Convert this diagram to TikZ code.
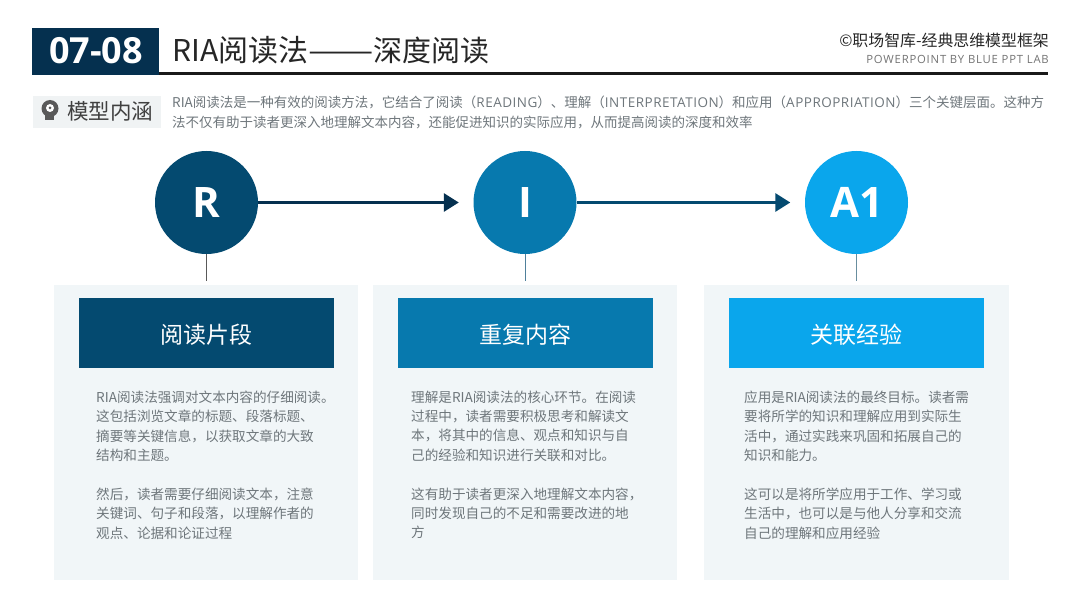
\documentclass[tikz,border=0pt]{standalone}
\usepackage{fontspec}
\setmainfont{Noto Sans CJK SC}
\newfontfamily\latinfont{Open Sans}
\newfontfamily\widefont[LetterSpace=3.7]{Open Sans}
\usetikzlibrary{arrows.meta}
\definecolor{navy}{HTML}{05304F}
\definecolor{darkblue}{HTML}{044A70}
\definecolor{midblue}{HTML}{0779AE}
\definecolor{lightblue}{HTML}{0AA6EC}
\definecolor{panelbg}{HTML}{F1F6F8}
\definecolor{tagbg}{HTML}{F0F3F4}
\definecolor{bodygrey}{HTML}{6E767B}
\tikzset{
  letter/.style={circle, minimum size=103pt, inner sep=0pt, text=white, font=\latinfont\bfseries\fontsize{42}{48}\selectfont},
  panel/.style={fill=panelbg, minimum width=304.5pt, minimum height=295pt, inner sep=0pt},
  headbox/.style={minimum width=255pt, minimum height=70pt, inner sep=0pt, text=white, text height=24pt, text depth=2.8pt, font=\fontsize{23}{26}\selectfont},
  bodytext/.style={anchor=north west, inner sep=0pt, align=left, text=bodygrey, font=\fontsize{13.6}{19.4}\selectfont},
  flow/.style={line width=3pt, -{Triangle[length=15pt,width=18pt]}, shorten >=14.5pt},
  stem/.style={line width=1pt}
}
\begin{document}
\begin{tikzpicture}[x=1pt,y=-1pt]
\useasboundingbox (0,0) rectangle (1080,607);

% header
\fill[navy] (32,28) rectangle (159,75);
\fill[black!90] (159,72) rectangle (1048,75.5);
\node[text=white, font=\latinfont\bfseries\fontsize{36}{38}\selectfont] (num) at (96,51) {07-08};
\node[anchor=west, inner sep=0pt, text=black!85, font=\fontsize{30}{33}\selectfont] (title) at (172,50) {RIA阅读法\scalebox{1.3}[1]{——}{\fontsize{29}{33}\selectfont 深度阅读}};
\node[anchor=east, inner sep=0pt, text=black!85, font=\fontsize{15.9}{20}\selectfont] (brand) at (1049,40) {©职场智库-经典思维模型框架};
\node[anchor=east, inner sep=0pt, text=black!55, font=\latinfont\fontsize{11.3}{14}\selectfont\addfontfeature{LetterSpace=7}] (lab) at (1049,59) {POWERPOINT BY BLUE PPT LAB};

% intro
\fill[tagbg] (33,96) rectangle (161,128);
\fill[black!65] (50,108.5) circle (8.5pt);
\fill[black!65] (45,112) rectangle (54,120);
\fill[white] (50,108) circle (4pt);
\fill[black!65] (50,108) circle (1.5pt);
\node[anchor=west, inner sep=0pt, text=black!75, font=\fontsize{21.5}{25}\selectfont] (tag) at (67,111) {模型内涵};
\node[anchor=north west, inner sep=0pt, align=left, text=bodygrey, font=\fontsize{13.5}{19.6}\selectfont] (intro) at (172,96) {RIA阅读法是一种有效的阅读方法，它结合了阅读（{\widefont READING}）、理解（{\widefont INTERPRETATION}）和应用（{\widefont APPROPRIATION}）三个关键层面。这种方\\法不仅有助于读者更深入地理解文本内容，还能促进知识的实际应用，从而提高阅读的深度和效率};

% circles
\node[letter, fill=darkblue] (r) at (206.5,202.5) {R};
\node[letter, fill=midblue] (i) at (525,202.5) {I};
\node[letter, fill=lightblue] (a) at (856.5,202.5) {A1};

\draw[flow, navy] (r) -- (i);
\draw[flow, darkblue] (i) -- (a);

% panels
\node[panel] (p1) at (206,432.5) {};
\node[panel] (p2) at (525,432.5) {};
\node[panel] (p3) at (856.5,432.5) {};

\coordinate (s1) at (206.5,281);
\coordinate (s2) at (525,281);
\coordinate (s3) at (856.5,281);
\draw[stem, draw=black!65] (r) -- (s1);
\draw[stem, draw=darkblue!70] (i) -- (s2);
\draw[stem, draw=midblue!55!black!60] (a) -- (s3);

\node[headbox, fill=darkblue] (h1) at (206.5,333) {阅读片段};
\node[headbox, fill=midblue] (h2) at (525,333) {重复内容};
\node[headbox, fill=lightblue] (h3) at (856.5,333) {关联经验};

\node[bodytext] (t1) at (96,390.5) {RIA阅读法强调对文本内容的仔细阅读。\\这包括浏览文章的标题、段落标题、\\摘要等关键信息，以获取文章的大致\\结构和主题。\\[19.4pt]然后，读者需要仔细阅读文本，注意\\关键词、句子和段落，以理解作者的\\观点、论据和论证过程};
\node[bodytext] (t2) at (411,390.5) {理解是RIA阅读法的核心环节。在阅读\\过程中，读者需要积极思考和解读文\\本，将其中的信息、观点和知识与自\\己的经验和知识进行关联和对比。\\[19.4pt]这有助于读者更深入地理解文本内容，\\同时发现自己的不足和需要改进的地\\方};
\node[bodytext] (t3) at (744,390.5) {应用是RIA阅读法的最终目标。读者需\\要将所学的知识和理解应用到实际生\\活中，通过实践来巩固和拓展自己的\\知识和能力。\\[19.4pt]这可以是将所学应用于工作、学习或\\生活中，也可以是与他人分享和交流\\自己的理解和应用经验};
\end{tikzpicture}
\end{document}
